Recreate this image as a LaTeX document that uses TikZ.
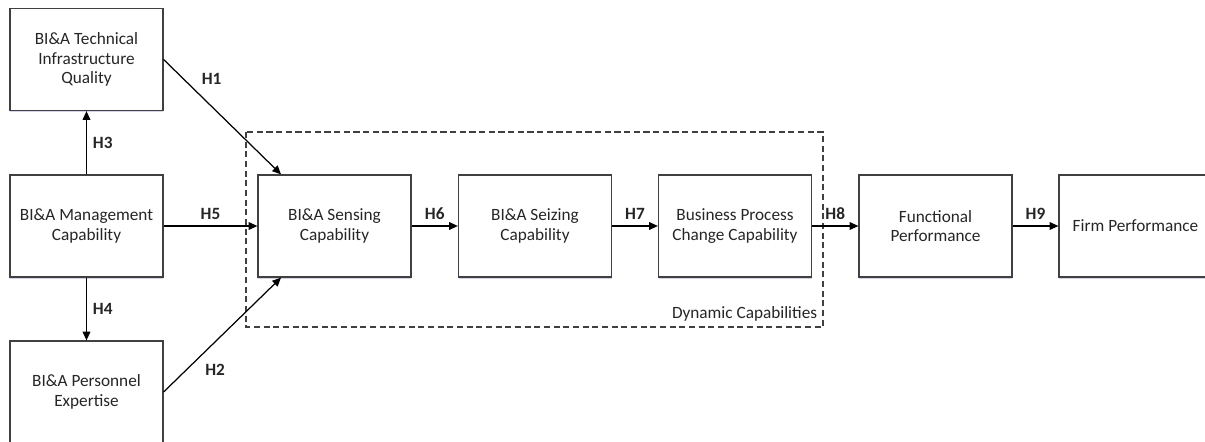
\documentclass[tikz,border=0pt]{standalone}
\usepackage{fontspec}
\setmainfont{Carlito}
\usetikzlibrary{arrows.meta,shadows}

\begin{document}
\begin{tikzpicture}[>={Triangle[length=5pt,width=4.4pt]}, line width=0.7pt,
    every node/.style={font=\fontsize{9.8}{11.2}\selectfont, text=black!85},
    box/.style={draw=black!75, fill=white, minimum width=3.06cm, minimum height=2.04cm,
        align=center, inner sep=2pt,
        drop shadow={shadow xshift=0pt, shadow yshift=-0.9pt, opacity=0.25, fill=blue!35!gray}},
    hyp/.style={font=\fontsize{9.8}{11.2}\selectfont\bfseries}]
    % Canvas
    \fill[white] (0,0) rectangle (24.1,-8.84);
    \useasboundingbox (0,0) rectangle (24.1,-8.84);

    % Dynamic capabilities group
    \draw[black!75, line width=0.6pt, dash pattern=on 3.5pt off 2pt] (4.92,-2.64) rectangle (16.46,-6.54);
    \node[anchor=south east, inner sep=3pt] (dyncap) at (16.46,-6.54) {Dynamic Capabilities};

    % Constructs
    \node[box] (tech)  at (1.73,-1.19)  {BI\&A Technical\\Infrastructure\\Quality};
    \node[box] (mgmt)  at (1.73,-4.52)  {BI\&A Management\\Capability};
    \node[box] (pers)  at (1.73,-7.84)  {BI\&A Personnel\\Expertise};
    \node[box] (sense) at (6.69,-4.52)  {BI\&A Sensing\\Capability};
    \node[box] (seize) at (10.70,-4.52) {BI\&A Seizing\\Capability};
    \node[box] (bpc)   at (14.70,-4.52) {Business Process\\Change Capability};
    \node[box] (func)  at (18.71,-4.52) {Functional\\Performance};
    \node[box] (firm)  at (22.71,-4.52) {Firm Performance};

    % Hypotheses
    \draw[->] (tech.east) -- node[hyp, pos=0.27, above right] {H1} (sense.136);
    \draw[->] (pers.east) -- node[hyp, pos=0.3, below right] {H2} (sense.224);
    \draw[->] (mgmt) -- node[hyp, right] {H3} (tech);
    \draw[->] (mgmt) -- node[hyp, right] {H4} (pers);
    \draw[->] (mgmt) -- node[hyp, above] {H5} (sense);
    \draw[->] (sense) -- node[hyp, above] {H6} (seize);
    \draw[->] (seize) -- node[hyp, above] {H7} (bpc);
    \draw[->] (bpc) -- node[hyp, above] {H8} (func);
    \draw[->] (func) -- node[hyp, above] {H9} (firm);
\end{tikzpicture}
\end{document}
